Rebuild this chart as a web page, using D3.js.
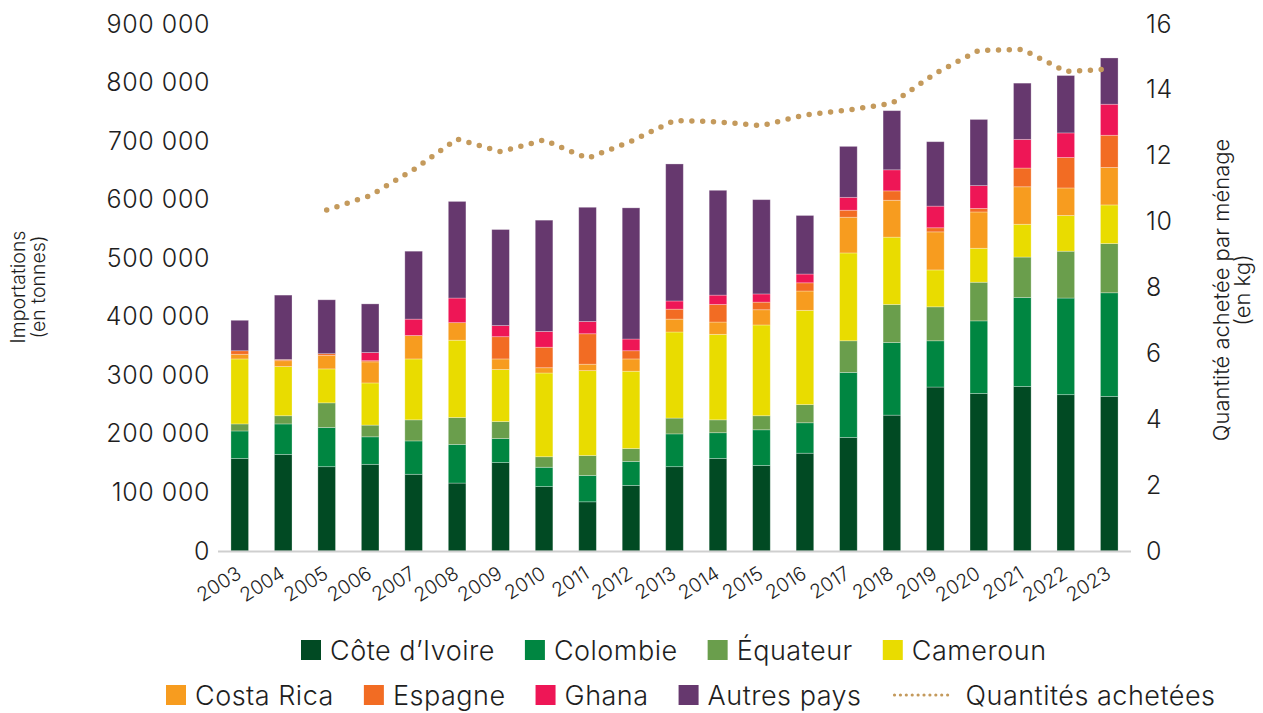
<!DOCTYPE html>
<html><head><meta charset="utf-8">
<script src="https://cdn.jsdelivr.net/npm/d3@7"></script>
<style>
body{margin:0;background:#fff;}
svg{display:block;font-family:"Inter","Noto Sans",sans-serif;}
</style></head>
<body><svg id="c" width="1263" height="713"></svg>
<script>
const years = ["2003","2004","2005","2006","2007","2008","2009","2010","2011","2012","2013","2014","2015","2016","2017","2018","2019","2020","2021","2022","2023"];
const seriesNames = ["Côte d’Ivoire","Colombie","Équateur","Cameroun","Costa Rica","Espagne","Ghana","Autres pays"];
const seriesColors = ["#014a23","#008641","#6a9e4c","#e9dc00","#f79c1f","#f26c23","#ee1656","#66386e"];
const coteIvoire = [158000,165000,144000,148000,131000,116000,151000,110000,84000,112000,144000,158000,146000,167000,194000,232000,280000,269000,281000,267000,264000];
const colombie   = [47000,52000,67000,47000,57000,66000,41000,33000,45000,41000,56000,44000,61000,52000,111000,124000,79000,124000,152000,165000,177000];
const equateur   = [12000,14000,42000,20000,36000,46000,29000,18000,34000,22000,27000,22000,24000,31000,54000,65000,58000,66000,69000,80000,84000];
const cameroun   = [111000,84000,58000,72000,104000,132000,89000,143000,145000,132000,147000,146000,155000,161000,150000,115000,63000,58000,56000,61000,66000];
const costaRica  = [8000,10000,23000,36000,40000,30000,18000,9000,11000,21000,22000,21000,26000,33000,61000,63000,65000,62000,64000,47000,64000];
const espagne    = [6000,2000,3000,2000,0,0,38000,35000,52000,14000,17000,30000,13000,14000,12000,16000,7000,6000,32000,52000,55000];
const ghana      = [0,0,0,14000,28000,42000,19000,27000,21000,20000,14000,16000,14000,15000,22000,36000,37000,39000,49000,42000,53000];
const autres     = [52000,110000,92000,83000,116000,165000,164000,190000,195000,224000,234000,179000,161000,100000,87000,101000,110000,113000,96000,98000,79000];
const lineYears  = ["2005","2006","2007","2008","2009","2010","2011","2012","2013","2014","2015","2016","2017","2018","2019","2020","2021","2022","2023"];
const quantites  = [10.35,10.79,11.58,12.51,12.12,12.48,11.92,12.44,13.07,13.03,12.91,13.24,13.39,13.59,14.5,15.2,15.23,14.56,14.63];
const leftTicks  = [0,100000,200000,300000,400000,500000,600000,700000,800000,900000];
const rightTicks = [0,2,4,6,8,10,12,14,16];
const lineColor = "#c49a5c";

const allSeries = [coteIvoire,colombie,equateur,cameroun,costaRica,espagne,ghana,autres];
const table = years.map((y,i)=>{const o={year:y}; seriesNames.forEach((n,k)=>o[n]=allSeries[k][i]); return o;});

const svg = d3.select("#c");
const x = d3.scaleBand().domain(years).range([218,1131]);
const y = d3.scaleLinear().domain([0,900000]).range([551,24]);
const y2 = d3.scaleLinear().domain([0,16]).range([551,24]);
const barW = 17.6;
const FONT = "Inter, sans-serif";
const TXT = "#1e1e1e";

const stack = d3.stack().keys(seriesNames)(table);

svg.append("g").selectAll("g").data(stack).join("g")
  .attr("fill",(d,i)=>seriesColors[i])
  .selectAll("rect").data(d=>d).join("rect")
  .attr("x",d=>x(d.data.year)+x.bandwidth()/2-barW/2)
  .attr("width",barW)
  .attr("y",d=>y(d[1]))
  .attr("height",d=>Math.max(0,y(d[0])-y(d[1])))
  .attr("stroke","#ffffff").attr("stroke-opacity",0.35).attr("stroke-width",0.8);

svg.append("line").attr("x1",218).attr("x2",1131).attr("y1",y(0)+0.5).attr("y2",y(0)+0.5)
  .attr("stroke","#cfcfcf").attr("stroke-width",2);

const fmt = v => v===0 ? "0" : d3.format(",")(v).replace(/,/g," ");
const gl = svg.append("g").attr("transform","translate(210,0)")
  .call(d3.axisLeft(y).tickValues(leftTicks).tickFormat(fmt).tickSize(0).tickPadding(0));
gl.select(".domain").remove();
gl.selectAll("text").attr("font-size",25).attr("fill",TXT).attr("font-family",FONT).attr("font-weight",300).attr("letter-spacing",0.6);

const gr = svg.append("g").attr("transform","translate(1146,0)")
  .call(d3.axisRight(y2).tickValues(rightTicks).tickSize(0).tickPadding(0));
gr.select(".domain").remove();
gr.selectAll("text").attr("font-size",25).attr("fill",TXT).attr("font-family",FONT).attr("font-weight",300).attr("letter-spacing",0.6);

const gx = svg.append("g").attr("transform",`translate(0,${y(0)})`)
  .call(d3.axisBottom(x).tickSize(0).tickPadding(0));
gx.select(".domain").remove();
gx.selectAll("text").attr("font-size",19.5).attr("fill",TXT).attr("font-family",FONT).attr("font-weight",300)
  .attr("text-anchor","end").attr("dy",0)
  .attr("transform","translate(3,26) rotate(-32)");

const line = d3.line().x((d,i)=>x(lineYears[i])+x.bandwidth()/2).y(d=>y2(d));
svg.append("path").datum(quantites).attr("d",line).attr("fill","none")
  .attr("stroke",lineColor).attr("stroke-width",5.5).attr("stroke-linecap","round")
  .attr("stroke-dasharray","0 10.8");

const lt = svg.append("text").attr("transform","translate(28,287) rotate(-90)")
  .attr("text-anchor","middle").attr("font-size",19.5).attr("font-weight",300).attr("fill",TXT);
lt.append("tspan").attr("x",0).attr("dy",-3).text("Importations");
lt.append("tspan").attr("x",0).attr("dy",20).text("(en tonnes)");
const rt = svg.append("text").attr("transform","translate(1232,290) rotate(-90)")
  .attr("text-anchor","middle").attr("font-size",22).attr("font-weight",300).attr("fill",TXT);
rt.append("tspan").attr("x",0).attr("dy",-3).text("Quantité achetée par ménage");
rt.append("tspan").attr("x",0).attr("dy",21).text("(en kg)");

const rows = [
  {start:301, y:650, items:[0,1,2,3]},
  {start:166, y:695, items:[4,5,6,7,"line"]}
];
rows.forEach(r=>{
  let cx = r.start;
  r.items.forEach(it=>{
    const g = svg.append("g");
    if(it==="line"){
      g.append("line").attr("x1",cx+3).attr("x2",cx+62).attr("y1",r.y).attr("y2",r.y)
        .attr("stroke",lineColor).attr("stroke-width",3.2).attr("stroke-linecap","round")
        .attr("stroke-dasharray","0 5.9");
      g.append("text").attr("x",cx+74).attr("y",r.y).attr("dy","0.36em")
        .attr("font-size",27).attr("font-weight",300).attr("letter-spacing",0.5).attr("fill",TXT).text("Quantités achetées");
    } else {
      g.append("rect").attr("x",cx).attr("y",r.y-10).attr("width",20).attr("height",20).attr("fill",seriesColors[it]);
      const t = g.append("text").attr("x",cx+29).attr("y",r.y).attr("dy","0.36em")
        .attr("font-size",27).attr("font-weight",300).attr("letter-spacing",0.5).attr("fill",TXT).text(seriesNames[it]);
      cx += 29 + t.node().getComputedTextLength() + 30;
    }
  });
});
</script></body></html>
